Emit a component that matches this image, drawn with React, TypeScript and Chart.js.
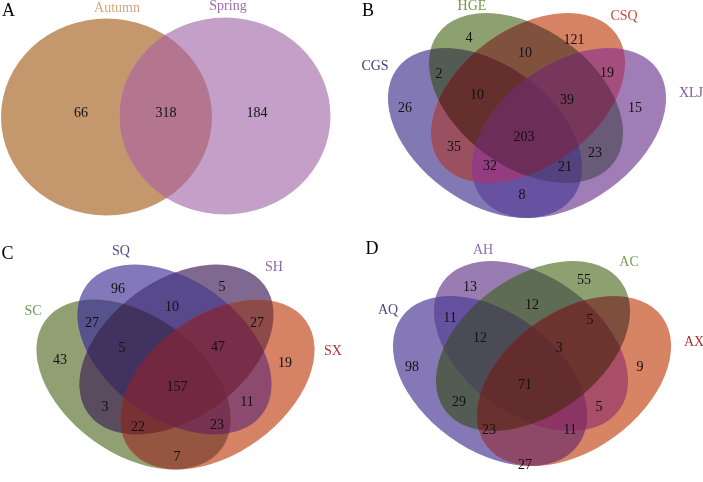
import React, { useEffect, useRef } from "react";
import { Chart, registerables } from "chart.js";

Chart.register(...registerables);

// ---------------- data ----------------
// Panel A: two seasons
const A_SETS = ["Autumn", "Spring"];
const A_COUNTS = [66, 318, 184]; // Autumn only, shared, Spring only

// Four-set panels: region membership order (bit 1 = outer-left set, 2 = inner-left, 4 = inner-right, 8 = outer-right)
const QUAD_REGIONS = [1, 2, 4, 8, 3, 6, 12, 7, 14, 15, 5, 10, 13, 11, 9];

const B_SETS = ["CGS", "HGE", "CSQ", "XLJ"];
const B_COUNTS = [26, 4, 121, 15, 2, 10, 19, 10, 39, 203, 35, 23, 32, 21, 8];

const C_SETS = ["SC", "SQ", "SH", "SX"];
const C_COUNTS = [43, 96, 5, 19, 27, 10, 27, 5, 47, 157, 3, 11, 22, 23, 7];

const D_SETS = ["AQ", "AH", "AC", "AX"];
const D_COUNTS = [98, 13, 55, 9, 11, 12, 5, 12, 3, 71, 29, 5, 23, 11, 27];

// ---------------- layout / style ----------------
type RGB = [number, number, number];

const FONT = "'Liberation Serif', 'Times New Roman', serif";

// shape of the four-ellipse layout, relative to each panel centre
const QUAD_A = 109;
const QUAD_B = 69;
const QUAD_TILT = 36; // degrees
const QUAD_OFFSETS: [number, number, number][] = [
  [-42, 0, 1],
  [-1, -35, 1],
  [1, -35, -1],
  [42, 0, -1],
];

const PAIR_SHAPES = [
  { cx: 106.5, cy: 117, rx: 105.5, ry: 98.5 },
  { cx: 225, cy: 116, rx: 105.5, ry: 98.5 },
];
const PAIR_REGIONS = [1, 2, 3];
const PAIR_COLORS: RGB[] = [
  [196, 152, 108],
  [196, 160, 200],
  [180, 118, 143],
];
const PAIR_LABEL_COLORS = ["#d2a87a", "#9c70aa"];
const PAIR_LABEL_POS: [number, number][] = [
  [117, 8],
  [228, 6],
];
const PAIR_COUNT_POS: [number, number][] = [
  [81, 113],
  [166, 113],
  [257, 113],
];

interface QuadPanel {
  letter: string;
  letterPos: [number, number];
  center: [number, number];
  sets: string[];
  counts: number[];
  regionColors: RGB[]; // same order as QUAD_REGIONS
  labelColors: string[];
  labelPos: [number, number][];
  countPos: [number, number][];
}

const QUADS: QuadPanel[] = [
  {
    letter: "B",
    letterPos: [368, 11],
    center: [527, 133],
    sets: B_SETS,
    counts: B_COUNTS,
    regionColors: [
      [130, 120, 180], [140, 160, 112], [214, 130, 100], [160, 125, 182],
      [82, 92, 84], [128, 82, 62], [165, 78, 125], [100, 47, 44], [118, 55, 90],
      [108, 45, 88], [155, 80, 97], [105, 90, 120], [148, 60, 128], [82, 66, 125], [102, 82, 160],
    ],
    labelColors: ["#3c3c78", "#6e9a4a", "#c0503a", "#7a5a9a"],
    labelPos: [
      [375, 66],
      [472, 6],
      [624, 16],
      [691, 93],
    ],
    countPos: [
      [405, 108], [469, 38], [574, 40], [635, 108], [439, 74], [525, 53], [607, 73],
      [477, 95], [567, 100], [524, 137], [454, 147], [595, 153], [490, 166], [565, 167], [522, 195],
    ],
  },
  {
    letter: "C",
    letterPos: [7.5, 254],
    center: [175.5, 384.5],
    sets: C_SETS,
    counts: C_COUNTS,
    regionColors: [
      [145, 160, 115], [130, 120, 186], [128, 105, 145], [214, 130, 100],
      [85, 82, 140], [88, 72, 140], [140, 75, 72], [65, 50, 95], [120, 45, 72],
      [115, 40, 65], [90, 75, 95], [140, 75, 110], [120, 50, 52], [120, 50, 82], [150, 85, 65],
    ],
    labelColors: ["#6e9650", "#4a4a8c", "#8a6aa0", "#b03030"],
    labelPos: [
      [33, 311],
      [121, 251],
      [274, 267],
      [333, 351],
    ],
    countPos: [
      [60, 360], [118, 289], [222, 287], [285, 363], [92, 323], [172, 307], [257, 323],
      [122, 348], [218, 347], [177, 387], [105, 407], [247, 402], [138, 427], [217, 425], [177, 457],
    ],
  },
  {
    letter: "D",
    letterPos: [372, 249],
    center: [532, 381],
    sets: D_SETS,
    counts: D_COUNTS,
    regionColors: [
      [132, 120, 182], [152, 124, 178], [140, 160, 112], [214, 132, 100],
      [100, 82, 160], [95, 108, 85], [125, 80, 62], [75, 75, 85], [108, 52, 47],
      [100, 45, 45], [82, 92, 82], [168, 78, 105], [105, 50, 47], [140, 52, 100], [142, 72, 104],
    ],
    labelColors: ["#4a4a80", "#8e6eae", "#78a050", "#a83030"],
    labelPos: [
      [388, 310],
      [483, 250],
      [629, 262],
      [694, 342],
    ],
    countPos: [
      [412, 367], [470, 287], [584, 280], [640, 367], [450, 318], [532, 305], [590, 320],
      [480, 338], [559, 348], [525, 385], [459, 402], [599, 407], [489, 430], [570, 430], [525, 465],
    ],
  },
];

type Shape = { cx: number; cy: number; rx: number; ry: number; rot: number };

function bitCount(m: number) {
  let c = 0;
  while (m) {
    c += m & 1;
    m >>= 1;
  }
  return c;
}

// paint every region: its colour fills the intersection of its sets, deepest regions last
function paintRegions(ctx: CanvasRenderingContext2D, shapes: Shape[], masks: number[], colors: RGB[]) {
  const order = masks.map((m, i) => i).sort((a, b) => bitCount(masks[a]) - bitCount(masks[b]));
  order.forEach((idx) => {
    const m = masks[idx];
    ctx.save();
    shapes.forEach((s, i) => {
      if (m & (1 << i)) {
        ctx.beginPath();
        ctx.ellipse(s.cx, s.cy, s.rx, s.ry, s.rot, 0, Math.PI * 2);
        ctx.clip();
      }
    });
    const c = colors[idx];
    ctx.fillStyle = `rgb(${c[0]},${c[1]},${c[2]})`;
    ctx.fillRect(0, 0, ctx.canvas.width, ctx.canvas.height);
    ctx.restore();
  });
}

const vennPlugin = {
  id: "vennShapes",
  beforeDatasetsDraw(chart: any) {
    const { ctx, scales } = chart;
    const xs = scales.x;
    const ys = scales.y;
    const px = (v: number) => xs.getPixelForValue(v);
    const py = (v: number) => ys.getPixelForValue(v);
    // panel A
    const pairShapes: Shape[] = PAIR_SHAPES.map((s) => {
      const cx = px(s.cx);
      const cy = py(s.cy);
      return {
        cx,
        cy,
        rx: Math.abs(px(s.cx + s.rx) - cx),
        ry: Math.abs(py(s.cy + s.ry) - cy),
        rot: 0,
      };
    });
    paintRegions(ctx, pairShapes, PAIR_REGIONS, PAIR_COLORS);
    // four-set panels
    QUADS.forEach((p) => {
      const shapes: Shape[] = QUAD_OFFSETS.map((o) => {
        const vx = p.center[0] + o[0];
        const vy = p.center[1] + o[1];
        const cx = px(vx);
        const cy = py(vy);
        return {
          cx,
          cy,
          rx: Math.abs(px(vx + QUAD_A) - cx),
          ry: Math.abs(py(vy + QUAD_B) - cy),
          rot: (o[2] * QUAD_TILT * Math.PI) / 180,
        };
      });
      paintRegions(ctx, shapes, QUAD_REGIONS, p.regionColors);
    });
  },
  afterDatasetsDraw(chart: any) {
    const { ctx, scales } = chart;
    const px = (v: number) => scales.x.getPixelForValue(v);
    const py = (v: number) => scales.y.getPixelForValue(v);
    ctx.save();
    ctx.textAlign = "center";
    ctx.textBaseline = "middle";
    // region counts, at the dataset points
    const allCounts = [A_COUNTS, ...QUADS.map((q) => q.counts)];
    allCounts.forEach((counts, di) => {
      const meta = chart.getDatasetMeta(di);
      ctx.font = `14px ${FONT}`;
      ctx.fillStyle = "#111";
      meta.data.forEach((el: any, i: number) => {
        ctx.fillText(String(counts[i]), el.x, el.y + 0.5);
      });
    });
    // set names
    ctx.font = `14px ${FONT}`;
    A_SETS.forEach((name, i) => {
      ctx.fillStyle = PAIR_LABEL_COLORS[i];
      ctx.fillText(name, px(PAIR_LABEL_POS[i][0]), py(PAIR_LABEL_POS[i][1]));
    });
    QUADS.forEach((q) => {
      q.sets.forEach((name, i) => {
        ctx.fillStyle = q.labelColors[i];
        ctx.fillText(name, px(q.labelPos[i][0]), py(q.labelPos[i][1]));
      });
    });
    // panel letters
    ctx.font = `18px ${FONT}`;
    ctx.fillStyle = "#000";
    ctx.fillText("A", px(8.5), py(11));
    QUADS.forEach((q) => ctx.fillText(q.letter, px(q.letterPos[0]), py(q.letterPos[1])));
    ctx.restore();
  },
};

export default function App() {
  const ref = useRef<HTMLCanvasElement>(null);
  useEffect(() => {
    if (!ref.current) return;
    const toPts = (pos: [number, number][]) => pos.map(([x, y]) => ({ x, y }));
    const datasets = [
      { label: "A", data: toPts(PAIR_COUNT_POS) },
      ...QUADS.map((q) => ({ label: q.letter, data: toPts(q.countPos) })),
    ].map((d) => ({ ...d, pointRadius: 0, pointHoverRadius: 0, showLine: false }));
    const chart = new Chart(ref.current, {
      type: "scatter",
      data: { datasets },
      options: {
        animation: false,
        responsive: false,
        devicePixelRatio: 1,
        layout: { padding: 0 },
        events: [],
        plugins: { legend: { display: false }, tooltip: { enabled: false } },
        scales: {
          x: { type: "linear", min: 0, max: 703, display: false },
          y: { type: "linear", min: 0, max: 482, reverse: true, display: false },
        },
      },
      plugins: [vennPlugin],
    } as any);
    return () => chart.destroy();
  }, []);
  return (
    <div style={{ position: "absolute", left: 0, top: 0, width: 703, height: 482, background: "#fff" }}>
      <canvas ref={ref} width={703} height={482} style={{ display: "block", width: 703, height: 482 }} />
    </div>
  );
}
